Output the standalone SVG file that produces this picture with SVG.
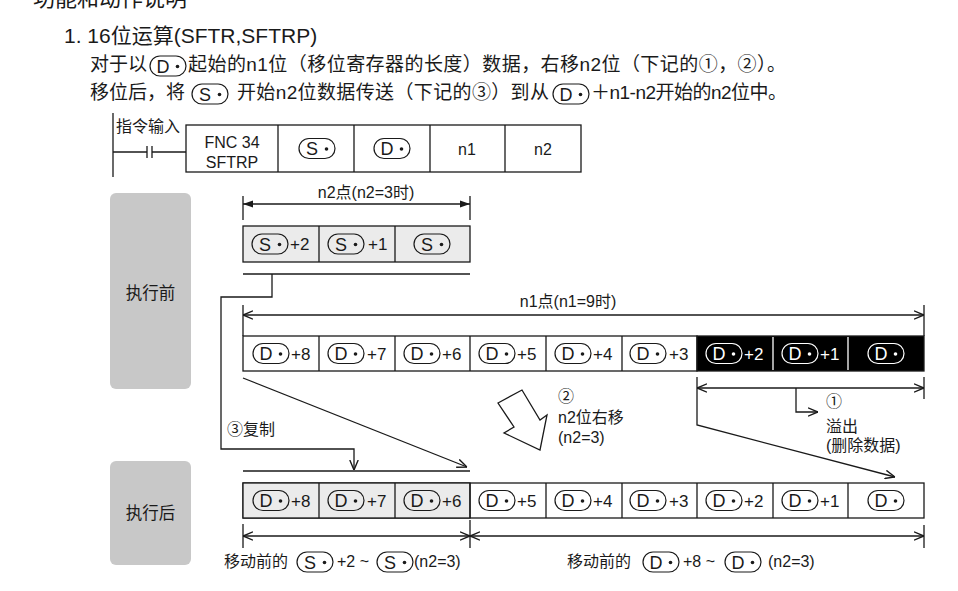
<svg xmlns="http://www.w3.org/2000/svg" width="958" height="591" viewBox="0 0 958 591">
<style>
  svg { font-family: "Liberation Sans", "Noto Sans CJK SC", sans-serif; }
  text { fill: #1a1a1a; }
  .ln { stroke: #1a1a1a; stroke-width: 1.3; fill: none; }
  .cell { stroke: #1a1a1a; stroke-width: 1.3; fill: #ffffff; }
  .cellg { stroke: #1a1a1a; stroke-width: 1.3; fill: #ebebeb; }
  .cellb { stroke: #1a1a1a; stroke-width: 1.3; fill: #000000; }
  .ct { font-size: 17px; }
  .wt { fill: #ffffff; }
  .lbl { font-size: 16px; }
  .para { font-size: 19px; }
  .state { fill: #c8c8c8; }
  .stt { font-size: 16.5px; text-anchor: middle; }
</style>
<defs>
  <g id="pD">
    <rect x="0" y="0" width="36" height="20" rx="10" fill="none" stroke="currentColor" stroke-width="1.2"/>
    <text x="13" y="16.5" text-anchor="middle" font-size="18" style="fill:currentColor">D</text>
    <circle cx="27.5" cy="10.5" r="1.8" fill="currentColor"/>
  </g>
  <g id="pS">
    <rect x="0" y="0" width="36" height="20" rx="10" fill="none" stroke="currentColor" stroke-width="1.2"/>
    <text x="13" y="16.5" text-anchor="middle" font-size="18" style="fill:currentColor">S</text>
    <circle cx="27.5" cy="10.5" r="1.8" fill="currentColor"/>
  </g>
  <marker id="ao" viewBox="0 0 10 10" refX="10" refY="5" markerWidth="10" markerHeight="10" markerUnits="userSpaceOnUse" orient="auto-start-reverse">
    <path d="M0,0.8 L10,5 L0,9.2" fill="none" stroke="#1a1a1a" stroke-width="1.4"/>
  </marker>
  <marker id="af" viewBox="0 0 10 10" refX="10" refY="5" markerWidth="10" markerHeight="10" markerUnits="userSpaceOnUse" orient="auto-start-reverse">
    <path d="M0,1.5 L10,5 L0,8.5 z" fill="#1a1a1a"/>
  </marker>
</defs>
<rect x="0" y="0" width="958" height="591" fill="#ffffff"/>

<!-- header texts -->
<g id="header" color="#1a1a1a">
  <text x="33" y="6" font-size="22">功能和动作说明</text>
  <text x="64" y="43" font-size="21">1. 16位运算(SFTR,SFTRP)</text>
  <text class="para" x="90" y="71">对于以</text>
  <use href="#pD" x="150" y="56"/>
  <text class="para" x="188" y="71" textLength="598" lengthAdjust="spacing">起始的n1位（移位寄存器的长度）数据，右移n2位（下记的①，②）。</text>
  <text class="para" x="90" y="99">移位后，将</text>
  <use href="#pS" x="192" y="84"/>
  <text class="para" x="237" y="99" textLength="312" lengthAdjust="spacing">开始n2位数据传送（下记的③）到从</text>
  <use href="#pD" x="553" y="84"/>
  <text class="para" x="591" y="99" textLength="196" lengthAdjust="spacing">＋n1-n2开始的n2位中。</text>
</g>

<!-- instruction ladder -->
<g id="instruction" color="#1a1a1a">
  <line class="ln" x1="113" y1="113" x2="113" y2="177"/>
  <text x="116" y="132" font-size="16">指令输入</text>
  <line class="ln" x1="113" y1="152" x2="147" y2="152"/>
  <line class="ln" x1="147" y1="146" x2="147" y2="158"/>
  <line class="ln" x1="152" y1="146" x2="152" y2="158"/>
  <line class="ln" x1="152" y1="152" x2="186" y2="152"/>
  <rect class="cell" x="186" y="125" width="395" height="47"/>
  <line class="ln" x1="278" y1="125" x2="278" y2="172"/>
  <line class="ln" x1="354" y1="125" x2="354" y2="172"/>
  <line class="ln" x1="430" y1="125" x2="430" y2="172"/>
  <line class="ln" x1="505" y1="125" x2="505" y2="172"/>
  <text x="232" y="148" font-size="16" text-anchor="middle">FNC 34</text>
  <text x="232" y="168" font-size="16" text-anchor="middle">SFTRP</text>
  <use href="#pS" x="299" y="138.5"/>
  <use href="#pD" x="374" y="138.5"/>
  <text x="467" y="155" font-size="16" text-anchor="middle">n1</text>
  <text x="543" y="155" font-size="16" text-anchor="middle">n2</text>
</g>

<!-- state labels -->
<g id="state-before">
  <rect class="state" x="110" y="193" width="81" height="196" rx="6"/>
  <text class="stt" x="150.5" y="299">执行前</text>
</g>
<g id="state-after">
  <rect class="state" x="110" y="461" width="81" height="104" rx="6"/>
  <text class="stt" x="150.5" y="519">执行后</text>
</g>

<!-- source register row -->
<g id="source-row" color="#1a1a1a">
  <rect class="cellg" x="243" y="226" width="227" height="36"/>
  <line class="ln" x1="319" y1="226" x2="319" y2="262"/>
  <line class="ln" x1="395" y1="226" x2="395" y2="262"/>
  <use href="#pS" x="252" y="234"/>
  <text class="ct" x="290" y="250">+2</text>
  <use href="#pS" x="328" y="234"/>
  <text class="ct" x="368" y="250">+1</text>
  <use href="#pS" x="414" y="234"/>
</g>

<!-- destination row before -->
<g id="dest-before">
  <rect class="cell" x="243" y="336" width="454" height="35"/>
  <rect class="cellb" x="697" y="336" width="227" height="35"/>
  <line class="ln" x1="319" y1="336" x2="319" y2="371"/>
  <line class="ln" x1="395" y1="336" x2="395" y2="371"/>
  <line class="ln" x1="470" y1="336" x2="470" y2="371"/>
  <line class="ln" x1="546" y1="336" x2="546" y2="371"/>
  <line class="ln" x1="622" y1="336" x2="622" y2="371"/>
  <line x1="773" y1="337" x2="773" y2="370" stroke="#ffffff" stroke-width="1.3"/>
  <line x1="848" y1="337" x2="848" y2="370" stroke="#ffffff" stroke-width="1.3"/>
  <g color="#1a1a1a">
    <use href="#pD" x="253" y="343.5"/><text class="ct" x="291" y="359.5">+8</text>
    <use href="#pD" x="328" y="343.5"/><text class="ct" x="367" y="359.5">+7</text>
    <use href="#pD" x="404" y="343.5"/><text class="ct" x="442" y="359.5">+6</text>
    <use href="#pD" x="479" y="343.5"/><text class="ct" x="517" y="359.5">+5</text>
    <use href="#pD" x="555" y="343.5"/><text class="ct" x="593" y="359.5">+4</text>
    <use href="#pD" x="630" y="343.5"/><text class="ct" x="669" y="359.5">+3</text>
  </g>
  <g color="#ffffff">
    <use href="#pD" x="706" y="343.5"/><text class="ct wt" x="744" y="359.5">+2</text>
    <use href="#pD" x="782" y="343.5"/><text class="ct wt" x="820" y="359.5">+1</text>
    <use href="#pD" x="868" y="343.5"/>
  </g>
</g>

<!-- destination row after -->
<g id="dest-after" color="#1a1a1a">
  <rect class="cell" x="243" y="483" width="681" height="35"/>
  <rect class="cellg" x="243" y="483" width="227" height="35"/>
  <line class="ln" x1="319" y1="483" x2="319" y2="518"/>
  <line class="ln" x1="395" y1="483" x2="395" y2="518"/>
  <line class="ln" x1="470" y1="483" x2="470" y2="518"/>
  <line class="ln" x1="546" y1="483" x2="546" y2="518"/>
  <line class="ln" x1="622" y1="483" x2="622" y2="518"/>
  <line class="ln" x1="697" y1="483" x2="697" y2="518"/>
  <line class="ln" x1="773" y1="483" x2="773" y2="518"/>
  <line class="ln" x1="848" y1="483" x2="848" y2="518"/>
  <use href="#pD" x="253" y="490.5"/><text class="ct" x="291" y="506.5">+8</text>
  <use href="#pD" x="328" y="490.5"/><text class="ct" x="367" y="506.5">+7</text>
  <use href="#pD" x="404" y="490.5"/><text class="ct" x="442" y="506.5">+6</text>
  <use href="#pD" x="479" y="490.5"/><text class="ct" x="517" y="506.5">+5</text>
  <use href="#pD" x="555" y="490.5"/><text class="ct" x="593" y="506.5">+4</text>
  <use href="#pD" x="630" y="490.5"/><text class="ct" x="669" y="506.5">+3</text>
  <use href="#pD" x="706" y="490.5"/><text class="ct" x="744" y="506.5">+2</text>
  <use href="#pD" x="782" y="490.5"/><text class="ct" x="820" y="506.5">+1</text>
  <use href="#pD" x="868" y="490.5"/>
</g>

<!-- connectors and dimensions -->
<g id="connectors">
  <!-- n2 dimension -->
  <line class="ln" x1="243" y1="196" x2="243" y2="220"/>
  <line class="ln" x1="470" y1="196" x2="470" y2="220"/>
  <line class="ln" x1="243" y1="204" x2="470" y2="204" marker-start="url(#af)" marker-end="url(#af)"/>
  <!-- n1 dimension -->
  <line class="ln" x1="243" y1="305" x2="243" y2="336"/>
  <line class="ln" x1="924" y1="305" x2="924" y2="336"/>
  <line class="ln" x1="243" y1="315" x2="924" y2="315" marker-start="url(#ao)" marker-end="url(#ao)"/>
  <!-- copy path -->
  <line class="ln" x1="243" y1="274" x2="470" y2="274"/>
  <path class="ln" d="M272,274 V297 H221 V449 H354 V470" marker-end="url(#ao)"/>
  <line class="ln" x1="243" y1="471" x2="470" y2="471"/>
  <!-- shift diagonal -->
  <line class="ln" x1="243" y1="378" x2="467" y2="467" marker-end="url(#ao)"/>
  <!-- overflow dimension -->
  <line class="ln" x1="924" y1="377" x2="924" y2="399"/>
  <path class="ln" d="M697,377 V425 L895,477" marker-end="url(#ao)"/>
  <line class="ln" x1="697" y1="388" x2="924" y2="388" marker-start="url(#ao)" marker-end="url(#ao)"/>
  <path class="ln" d="M796,388 V412 H818" marker-end="url(#ao)"/>
  <!-- big hollow arrow -->
  <polygon points="498,403 522,390 540,420 547,415 540,450 504,433 514,427" fill="#ffffff" stroke="#1a1a1a" stroke-width="1.3" stroke-linejoin="miter"/>
  <!-- bottom dimensions -->
  <line class="ln" x1="243" y1="524" x2="243" y2="548"/>
  <line class="ln" x1="470" y1="520" x2="470" y2="548"/>
  <line class="ln" x1="924" y1="525" x2="924" y2="548"/>
  <line class="ln" x1="243" y1="536" x2="470" y2="536" marker-start="url(#ao)" marker-end="url(#ao)"/>
  <line class="ln" x1="470" y1="536" x2="924" y2="536" marker-start="url(#ao)" marker-end="url(#ao)"/>
</g>

<!-- annotation labels -->
<g id="labels" color="#1a1a1a">
  <text class="lbl" x="366" y="198" text-anchor="middle">n2点(n2=3时)</text>
  <text class="lbl" x="568" y="307" text-anchor="middle">n1点(n1=9时)</text>
  <text class="lbl" x="227" y="435">③复制</text>
  <text class="lbl" x="558" y="402">②</text>
  <text class="lbl" x="558" y="423">n2位右移</text>
  <text class="lbl" x="558" y="443">(n2=3)</text>
  <text class="lbl" x="826" y="407">①</text>
  <text class="lbl" x="826" y="432">溢出</text>
  <text class="lbl" x="826" y="451">(删除数据)</text>
  <text class="lbl" x="224" y="567">移动前的</text>
  <use href="#pS" x="297" y="552"/>
  <text class="lbl" x="337" y="567">+2 ~</text>
  <use href="#pS" x="377" y="552"/>
  <text class="lbl" x="414" y="567">(n2=3)</text>
  <text class="lbl" x="567" y="567">移动前的</text>
  <use href="#pD" x="643" y="552"/>
  <text class="lbl" x="683" y="567">+8 ~</text>
  <use href="#pD" x="725" y="552"/>
  <text class="lbl" x="768" y="567">(n2=3)</text>
</g>
</svg>
